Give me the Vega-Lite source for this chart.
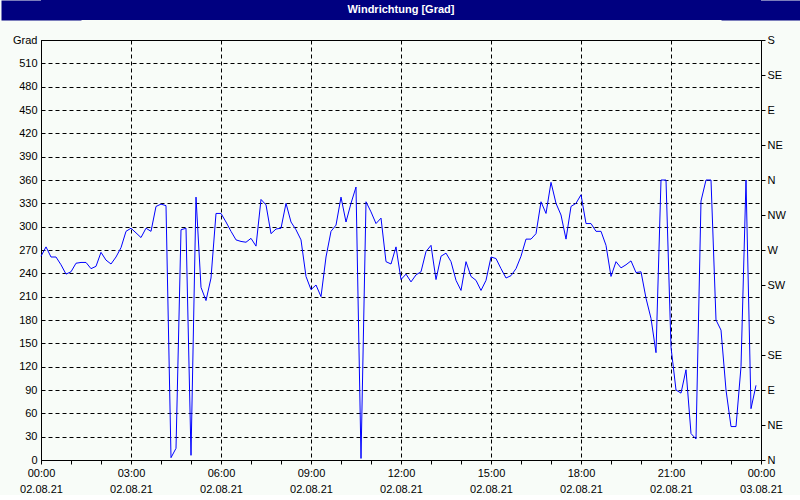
{
  "$schema": "https://vega.github.io/schema/vega-lite/v6.json",
  "padding": 0,
  "background": "#f8fcf8",
  "spacing": 13,
  "columns": 1,
  "config": {
    "font": "Liberation Sans",
    "axis": {"labelFont": "Liberation Sans", "labelFontSize": 11, "labelColor": "#000000", "domainColor": "#000000", "tickColor": "#000000", "title": null}
  },
  "datasets": {
    "wind": [
      {"time": "2021-08-02T00:00:00", "deg": 262}, {"time": "2021-08-02T00:10:00", "deg": 274}, {"time": "2021-08-02T00:20:00", "deg": 261}, {"time": "2021-08-02T00:30:00", "deg": 261}, {"time": "2021-08-02T00:40:00", "deg": 251}, {"time": "2021-08-02T00:50:00", "deg": 239},
      {"time": "2021-08-02T01:00:00", "deg": 242}, {"time": "2021-08-02T01:10:00", "deg": 253}, {"time": "2021-08-02T01:20:00", "deg": 254}, {"time": "2021-08-02T01:30:00", "deg": 254}, {"time": "2021-08-02T01:40:00", "deg": 246}, {"time": "2021-08-02T01:50:00", "deg": 249},
      {"time": "2021-08-02T02:00:00", "deg": 267}, {"time": "2021-08-02T02:10:00", "deg": 257}, {"time": "2021-08-02T02:20:00", "deg": 252}, {"time": "2021-08-02T02:30:00", "deg": 261}, {"time": "2021-08-02T02:40:00", "deg": 273}, {"time": "2021-08-02T02:50:00", "deg": 294},
      {"time": "2021-08-02T03:00:00", "deg": 298}, {"time": "2021-08-02T03:10:00", "deg": 292}, {"time": "2021-08-02T03:20:00", "deg": 286}, {"time": "2021-08-02T03:30:00", "deg": 298}, {"time": "2021-08-02T03:40:00", "deg": 294}, {"time": "2021-08-02T03:50:00", "deg": 326},
      {"time": "2021-08-02T04:00:00", "deg": 329}, {"time": "2021-08-02T04:10:00", "deg": 327}, {"time": "2021-08-02T04:20:00", "deg": 3}, {"time": "2021-08-02T04:30:00", "deg": 15}, {"time": "2021-08-02T04:40:00", "deg": 296}, {"time": "2021-08-02T04:50:00", "deg": 298},
      {"time": "2021-08-02T05:00:00", "deg": 6}, {"time": "2021-08-02T05:10:00", "deg": 338}, {"time": "2021-08-02T05:20:00", "deg": 222}, {"time": "2021-08-02T05:30:00", "deg": 205}, {"time": "2021-08-02T05:40:00", "deg": 234}, {"time": "2021-08-02T05:50:00", "deg": 317},
      {"time": "2021-08-02T06:00:00", "deg": 317}, {"time": "2021-08-02T06:10:00", "deg": 306}, {"time": "2021-08-02T06:20:00", "deg": 294}, {"time": "2021-08-02T06:30:00", "deg": 283}, {"time": "2021-08-02T06:40:00", "deg": 281}, {"time": "2021-08-02T06:50:00", "deg": 280},
      {"time": "2021-08-02T07:00:00", "deg": 285}, {"time": "2021-08-02T07:10:00", "deg": 275}, {"time": "2021-08-02T07:20:00", "deg": 335}, {"time": "2021-08-02T07:30:00", "deg": 328}, {"time": "2021-08-02T07:40:00", "deg": 291}, {"time": "2021-08-02T07:50:00", "deg": 297},
      {"time": "2021-08-02T08:00:00", "deg": 298}, {"time": "2021-08-02T08:10:00", "deg": 330}, {"time": "2021-08-02T08:20:00", "deg": 306}, {"time": "2021-08-02T08:30:00", "deg": 296}, {"time": "2021-08-02T08:40:00", "deg": 283}, {"time": "2021-08-02T08:50:00", "deg": 236},
      {"time": "2021-08-02T09:00:00", "deg": 219}, {"time": "2021-08-02T09:10:00", "deg": 225}, {"time": "2021-08-02T09:20:00", "deg": 210}, {"time": "2021-08-02T09:30:00", "deg": 261}, {"time": "2021-08-02T09:40:00", "deg": 294}, {"time": "2021-08-02T09:50:00", "deg": 302},
      {"time": "2021-08-02T10:00:00", "deg": 338}, {"time": "2021-08-02T10:10:00", "deg": 306}, {"time": "2021-08-02T10:20:00", "deg": 330}, {"time": "2021-08-02T10:30:00", "deg": 351}, {"time": "2021-08-02T10:40:00", "deg": 2}, {"time": "2021-08-02T10:50:00", "deg": 332},
      {"time": "2021-08-02T11:00:00", "deg": 319}, {"time": "2021-08-02T11:10:00", "deg": 304}, {"time": "2021-08-02T11:20:00", "deg": 311}, {"time": "2021-08-02T11:30:00", "deg": 255}, {"time": "2021-08-02T11:40:00", "deg": 252}, {"time": "2021-08-02T11:50:00", "deg": 274},
      {"time": "2021-08-02T12:00:00", "deg": 232}, {"time": "2021-08-02T12:10:00", "deg": 239}, {"time": "2021-08-02T12:20:00", "deg": 229}, {"time": "2021-08-02T12:30:00", "deg": 238}, {"time": "2021-08-02T12:40:00", "deg": 242}, {"time": "2021-08-02T12:50:00", "deg": 268},
      {"time": "2021-08-02T13:00:00", "deg": 276}, {"time": "2021-08-02T13:10:00", "deg": 232}, {"time": "2021-08-02T13:20:00", "deg": 262}, {"time": "2021-08-02T13:30:00", "deg": 266}, {"time": "2021-08-02T13:40:00", "deg": 255}, {"time": "2021-08-02T13:50:00", "deg": 231},
      {"time": "2021-08-02T14:00:00", "deg": 218}, {"time": "2021-08-02T14:10:00", "deg": 255}, {"time": "2021-08-02T14:20:00", "deg": 236}, {"time": "2021-08-02T14:30:00", "deg": 231}, {"time": "2021-08-02T14:40:00", "deg": 218}, {"time": "2021-08-02T14:50:00", "deg": 231},
      {"time": "2021-08-02T15:00:00", "deg": 261}, {"time": "2021-08-02T15:10:00", "deg": 259}, {"time": "2021-08-02T15:20:00", "deg": 246}, {"time": "2021-08-02T15:30:00", "deg": 234}, {"time": "2021-08-02T15:40:00", "deg": 237}, {"time": "2021-08-02T15:50:00", "deg": 246},
      {"time": "2021-08-02T16:00:00", "deg": 262}, {"time": "2021-08-02T16:10:00", "deg": 284}, {"time": "2021-08-02T16:20:00", "deg": 284}, {"time": "2021-08-02T16:30:00", "deg": 291}, {"time": "2021-08-02T16:40:00", "deg": 332}, {"time": "2021-08-02T16:50:00", "deg": 317},
      {"time": "2021-08-02T17:00:00", "deg": 357}, {"time": "2021-08-02T17:10:00", "deg": 330}, {"time": "2021-08-02T17:20:00", "deg": 315}, {"time": "2021-08-02T17:30:00", "deg": 284}, {"time": "2021-08-02T17:40:00", "deg": 326}, {"time": "2021-08-02T17:50:00", "deg": 330},
      {"time": "2021-08-02T18:00:00", "deg": 341}, {"time": "2021-08-02T18:10:00", "deg": 304}, {"time": "2021-08-02T18:20:00", "deg": 304}, {"time": "2021-08-02T18:30:00", "deg": 294}, {"time": "2021-08-02T18:40:00", "deg": 294}, {"time": "2021-08-02T18:50:00", "deg": 276},
      {"time": "2021-08-02T19:00:00", "deg": 236}, {"time": "2021-08-02T19:10:00", "deg": 255}, {"time": "2021-08-02T19:20:00", "deg": 247}, {"time": "2021-08-02T19:30:00", "deg": 251}, {"time": "2021-08-02T19:40:00", "deg": 256}, {"time": "2021-08-02T19:50:00", "deg": 241},
      {"time": "2021-08-02T20:00:00", "deg": 242}, {"time": "2021-08-02T20:10:00", "deg": 208}, {"time": "2021-08-02T20:20:00", "deg": 182}, {"time": "2021-08-02T20:30:00", "deg": 138}, {"time": "2021-08-02T20:40:00", "deg": 360}, {"time": "2021-08-02T20:50:00", "deg": 360},
      {"time": "2021-08-02T21:00:00", "deg": 145}, {"time": "2021-08-02T21:10:00", "deg": 90}, {"time": "2021-08-02T21:20:00", "deg": 86}, {"time": "2021-08-02T21:30:00", "deg": 116}, {"time": "2021-08-02T21:40:00", "deg": 34}, {"time": "2021-08-02T21:50:00", "deg": 27},
      {"time": "2021-08-02T22:00:00", "deg": 333}, {"time": "2021-08-02T22:10:00", "deg": 360}, {"time": "2021-08-02T22:20:00", "deg": 360}, {"time": "2021-08-02T22:30:00", "deg": 180}, {"time": "2021-08-02T22:40:00", "deg": 167}, {"time": "2021-08-02T22:50:00", "deg": 90},
      {"time": "2021-08-02T23:00:00", "deg": 43}, {"time": "2021-08-02T23:10:00", "deg": 43}, {"time": "2021-08-02T23:20:00", "deg": 120}, {"time": "2021-08-02T23:30:00", "deg": 360}, {"time": "2021-08-02T23:40:00", "deg": 66}, {"time": "2021-08-02T23:50:00", "deg": 96}
    ],
    "header": [{"label": "Windrichtung [Grad]", "v": 0}]
  },
  "concat": [
    {
      "width": 720,
      "height": 20,
      "view": {"fill": "#000080", "stroke": null},
      "data": {"name": "header"},
      "layer": [
        {
          "mark": {"type": "text", "color": "#ffffff", "fontWeight": "bold", "fontSize": 11, "font": "Liberation Sans", "baseline": "middle", "align": "center"},
          "encoding": {
            "text": {"field": "label", "type": "nominal"},
            "y": {
              "field": "v", "type": "quantitative",
              "scale": {"domain": [-1, 1]},
              "axis": {"orient": "left", "domain": true, "domainColor": "#000080", "domainWidth": 80, "domainCap": "butt", "ticks": false, "labels": false, "grid": false, "minExtent": 40, "maxExtent": 40}
            }
          }
        },
        {
          "mark": {"type": "text", "opacity": 0},
          "encoding": {
            "text": {"field": "label", "type": "nominal"},
            "y": {
              "field": "v", "type": "quantitative",
              "axis": {"orient": "right", "domain": true, "domainColor": "#000080", "domainWidth": 80, "domainCap": "butt", "ticks": false, "labels": false, "grid": false, "minExtent": 40, "maxExtent": 40}
            }
          }
        }
      ],
      "resolve": {"axis": {"y": "independent"}}
    },
    {
      "width": 720,
      "height": 420,
      "view": {"fill": "#f8fcf8", "stroke": "#000000", "strokeWidth": 1},
      "data": {"name": "wind"},
      "layer": [
        {
          "mark": {"type": "line", "color": "#0000ff", "strokeWidth": 1},
          "encoding": {
            "x": {
              "field": "time", "type": "temporal",
              "scale": {"domain": ["2021-08-02T00:00:00", "2021-08-03T00:00:00"], "nice": false},
              "axis": {
                "values": [
                  {"year": 2021, "month": 8, "date": 2, "hours": 0}, {"year": 2021, "month": 8, "date": 2, "hours": 1}, {"year": 2021, "month": 8, "date": 2, "hours": 2},
                  {"year": 2021, "month": 8, "date": 2, "hours": 3}, {"year": 2021, "month": 8, "date": 2, "hours": 4}, {"year": 2021, "month": 8, "date": 2, "hours": 5},
                  {"year": 2021, "month": 8, "date": 2, "hours": 6}, {"year": 2021, "month": 8, "date": 2, "hours": 7}, {"year": 2021, "month": 8, "date": 2, "hours": 8},
                  {"year": 2021, "month": 8, "date": 2, "hours": 9}, {"year": 2021, "month": 8, "date": 2, "hours": 10}, {"year": 2021, "month": 8, "date": 2, "hours": 11},
                  {"year": 2021, "month": 8, "date": 2, "hours": 12}, {"year": 2021, "month": 8, "date": 2, "hours": 13}, {"year": 2021, "month": 8, "date": 2, "hours": 14},
                  {"year": 2021, "month": 8, "date": 2, "hours": 15}, {"year": 2021, "month": 8, "date": 2, "hours": 16}, {"year": 2021, "month": 8, "date": 2, "hours": 17},
                  {"year": 2021, "month": 8, "date": 2, "hours": 18}, {"year": 2021, "month": 8, "date": 2, "hours": 19}, {"year": 2021, "month": 8, "date": 2, "hours": 20},
                  {"year": 2021, "month": 8, "date": 2, "hours": 21}, {"year": 2021, "month": 8, "date": 2, "hours": 22}, {"year": 2021, "month": 8, "date": 2, "hours": 23},
                  {"year": 2021, "month": 8, "date": 3, "hours": 0}
                ],
                "tickCount": 40,
                "labelExpr": "hours(datum.value) % 3 === 0 ? [timeFormat(datum.value, '%H:%M'), timeFormat(datum.value, '%d.%m.%y')] : ''",
                "labelOverlap": false, "labelFlush": false, "labelLineHeight": 16, "labelPadding": 3,
                "tickSize": 4,
                "grid": true, "gridColor": "#000000", "gridDash": [4, 3], "gridWidth": 1,
                "gridOpacity": {"condition": {"test": "hours(datum.value) % 3 === 0", "value": 1}, "value": 0}
              }
            },
            "y": {
              "field": "deg", "type": "quantitative",
              "scale": {"domain": [0, 540], "nice": false},
              "axis": {
                "orient": "left",
                "values": [0, 30, 60, 90, 120, 150, 180, 210, 240, 270, 300, 330, 360, 390, 420, 450, 480, 510, 540],
                "labelExpr": "datum.value === 540 ? 'Grad' : datum.label",
                "ticks": false, "labelPadding": 4, "labelOverlap": false, "labelFlush": false,
                "grid": true, "gridColor": "#000000", "gridDash": [4, 3], "gridWidth": 1,
                "minExtent": 40, "maxExtent": 40
              }
            }
          }
        },
        {
          "mark": {"type": "line", "strokeOpacity": 0},
          "encoding": {
            "x": {"field": "time", "type": "temporal"},
            "y": {
              "field": "deg", "type": "quantitative",
              "axis": {
                "orient": "right",
                "values": [0, 45, 90, 135, 180, 225, 270, 315, 360, 405, 450, 495, 540],
                "labelExpr": "['N','NE','E','SE','S','SW','W','NW'][round(datum.value / 45) % 8]",
                "tickSize": 4, "labelPadding": 2, "labelOverlap": false, "labelFlush": false,
                "grid": false, "minExtent": 40, "maxExtent": 40
              }
            }
          }
        }
      ],
      "resolve": {"axis": {"y": "independent"}}
    }
  ]
}
